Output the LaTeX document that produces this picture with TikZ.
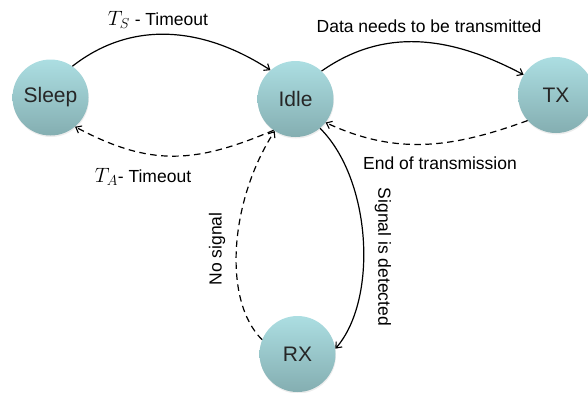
\documentclass[tikz,border=0pt]{standalone}
\usepackage{fontspec}
\setmainfont{Liberation Sans}
\usetikzlibrary{arrows.meta,shadows}
\definecolor{ctop}{RGB}{172,222,226}
\definecolor{cbot}{RGB}{132,174,177}
\newcommand{\bigmath}[1]{{\fontsize{21}{21}\selectfont$#1$}}
\tikzset{
  state/.style={circle, minimum size=76pt, inner sep=0pt, top color=ctop, bottom color=cbot, draw=none,
    font=\fontsize{21}{21}\selectfont, text=black!85,
    drop shadow={shadow xshift=0.5pt, shadow yshift=-1.5pt, fill=black!20, opacity=0.35}},
  tr/.style={line width=1.2pt, -{Straight Barb[length=5pt,width=8pt,line width=1.1pt]}},
  trd/.style={tr, dash pattern=on 6.5pt off 4.5pt},
  lab/.style={font=\fontsize{17.5}{18}\selectfont, inner sep=0pt}
}
\begin{document}
\begin{tikzpicture}[x=1pt,y=-1pt]
\useasboundingbox (0,0) rectangle (588,392);
\node[state] (sleep) at (50.5,97.5) {Sleep};
\node[state] (idle) at (295.5,99) {Idle};
\node[state] (tx) at (556,95) {TX};
\node[state] (rx) at (297.5,354) {RX};
% Sleep -> Idle
\draw[tr] (sleep.55) to[out=38,in=147] (idle.131);
% Idle -> Sleep
\draw[trd] (idle.235) to[out=203,in=-28,looseness=1.1] (sleep.310);
% Idle -> TX
\draw[tr] (idle.47) to[out=35,in=152] (tx.148);
% TX -> Idle
\draw[trd] (tx.222) to[out=200,in=-25] (idle.322);
% Idle -> RX
\draw[tr] (idle.310) .. controls (372,180) and (378,300) .. (rx.8);
% RX -> Idle
\draw[trd] (rx.158) .. controls (222,300) and (230,200) .. (idle.237);
\node[lab] (l1) at (158,20) {\bigmath{T_S} - Timeout};
\node[lab] (l2) at (143,177) {\bigmath{T_A}- Timeout};
\node[lab] (l3) at (429,26) {Data needs to be transmitted};
\node[lab] (l4) at (440,163) {End of transmission};
\node[lab, rotate=-90] (l5) at (383,257) {Signal is detected};
\node[lab, rotate=90] (l6) at (217,249) {No signal};
\end{tikzpicture}
\end{document}
